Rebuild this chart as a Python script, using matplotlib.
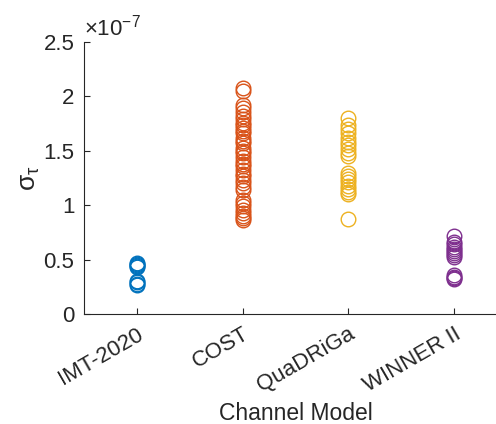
import numpy as np
import matplotlib
matplotlib.use("Agg")
import matplotlib.pyplot as plt
from matplotlib.ticker import FuncFormatter

plt.rcParams['font.family'] = ['Liberation Sans', 'DejaVu Sans']
plt.rcParams['mathtext.fontset'] = 'custom'
plt.rcParams['mathtext.rm'] = 'Liberation Sans'
plt.rcParams['mathtext.it'] = 'Liberation Sans'

# Delay spread samples per channel model (units of 1e-7 s)
models = ["IMT-2020", "COST", "QuaDRiGa", "WINNER II"]
imt_spread = [0.27, 0.28, 0.29, 0.30, 0.43, 0.44, 0.45, 0.46, 0.47]
cost_spread = [2.08, 2.05, 1.92, 1.89, 1.86, 1.82, 1.79, 1.76, 1.74, 1.71,
               1.68, 1.66, 1.62, 1.59, 1.57, 1.53, 1.50, 1.48, 1.44, 1.41,
               1.38, 1.36, 1.32, 1.29, 1.27, 1.23, 1.20, 1.17, 1.14, 1.05,
               1.02, 0.99, 0.96, 0.93, 0.90, 0.88, 0.86]
quad_spread = [1.80, 1.74, 1.70, 1.66, 1.62, 1.58, 1.55, 1.52, 1.48, 1.45,
               1.30, 1.27, 1.24, 1.21, 1.18, 1.15, 1.12, 1.10, 0.87]
winner_spread = [0.72, 0.66, 0.64, 0.62, 0.60, 0.58, 0.56, 0.54, 0.52,
                 0.36, 0.34, 0.33, 0.32]
scale = 1e-7

series = [imt_spread, cost_spread, quad_spread, winner_spread]
colors = ["#0072BD", "#D95319", "#EDB120", "#7E2F8E"]

fig = plt.figure(figsize=(4.96, 4.24), dpi=100)
ax = fig.add_axes([84 / 496, 110 / 424, 423 / 496, 272 / 424])

for i, (vals, c) in enumerate(zip(series, colors), start=1):
    y = np.asarray(vals) * scale
    ax.plot(np.full(len(y), i), y, linestyle='none', marker='o',
            markersize=10.5, markerfacecolor='none', markeredgecolor=c,
            markeredgewidth=1.0, clip_on=False)

ax.set_xlim(0.5, 4.5)
ax.set_ylim(0, 2.5 * scale)
ax.set_xticks(range(1, len(models) + 1))
ax.set_xticklabels(models, rotation=30, ha='right', rotation_mode='anchor')
ax.set_yticks(np.arange(0, 2.51, 0.5) * scale)
ax.yaxis.set_major_formatter(FuncFormatter(lambda v, p: f"{v / scale:g}"))

axis_col = "#262626"
for side in ('top', 'right'):
    ax.spines[side].set_visible(False)
for side in ('left', 'bottom'):
    ax.spines[side].set_color(axis_col)
    ax.spines[side].set_linewidth(0.8)
ax.tick_params(direction='in', length=4, width=0.8, color=axis_col,
               labelcolor=axis_col, labelsize=16, pad=7)

ax.set_xlabel("Channel Model", fontsize=16.5, color=axis_col, labelpad=4)
ax.set_ylabel(r"$\sigma_{\tau}$", fontsize=19, color=axis_col, labelpad=1)
ax.text(0.0, 1.005, r"$\times10^{-7}$", transform=ax.transAxes,
        fontsize=16, color=axis_col, ha='left', va='bottom')

fig.savefig("out.png", dpi=100)
